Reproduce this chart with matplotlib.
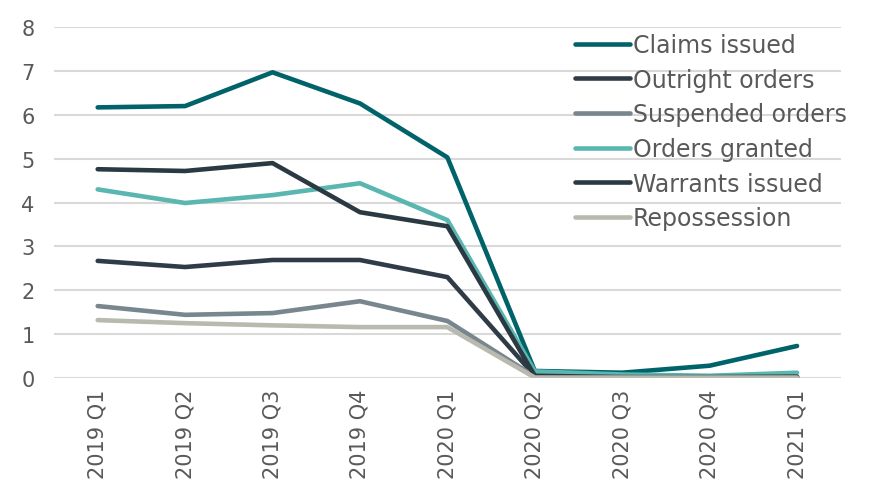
import matplotlib.pyplot as plt

quarters = ["2019 Q1", "2019 Q2", "2019 Q3", "2019 Q4", "2020 Q1",
            "2020 Q2", "2020 Q3", "2020 Q4", "2021 Q1"]

claims = [6.17, 6.20, 6.97, 6.26, 5.03, 0.16, 0.12, 0.28, 0.73]
outright = [2.67, 2.53, 2.69, 2.69, 2.30, 0.05, 0.02, 0.02, 0.02]
suspended = [1.64, 1.44, 1.48, 1.75, 1.30, 0.03, 0.02, 0.02, 0.02]
granted = [4.30, 3.99, 4.17, 4.44, 3.60, 0.15, 0.08, 0.05, 0.12]
warrants = [4.76, 4.72, 4.90, 3.78, 3.46, 0.05, 0.02, 0.02, 0.03]
reposs = [1.32, 1.25, 1.20, 1.16, 1.16, 0.01, 0.01, 0.01, 0.01]

series = [
    ("Claims issued", claims, "#00636A"),
    ("Outright orders", outright, "#2F3C47"),
    ("Suspended orders", suspended, "#78868E"),
    ("Orders granted", granted, "#5AB6B0"),
    ("Warrants issued", warrants, "#2B3943"),
    ("Repossession", reposs, "#B9B9AF"),
]

plt.rcParams['font.family'] = ['DejaVu Sans']

fig = plt.figure(figsize=(8.85, 4.85), dpi=100)
ax = fig.add_axes([0.061, 0.2186, 0.889, 0.7234])

x = range(len(quarters))
for label, vals, color in series:
    ax.plot(x, vals, color=color, lw=3.3, label=label, solid_capstyle="round", solid_joinstyle="round")

ax.set_xlim(-0.5, len(quarters) - 0.5)
ax.set_ylim(0, 8)
ax.set_yticks(range(0, 9))
ax.set_xticks(list(x))
ax.set_xticklabels(quarters, rotation=90)
ax.tick_params(axis="both", length=0, labelsize=15, labelcolor="#595959")
ax.tick_params(axis="y", pad=14)
ax.tick_params(axis="x", pad=8)
ax.grid(axis="y", color="#D9D9D9", lw=1.5)
ax.set_axisbelow(True)
for s in ax.spines.values():
    s.set_visible(False)

leg = ax.legend(loc="upper left", bbox_to_anchor=(0.655, 1.0), frameon=False,
                fontsize=17, handlelength=2.3, handletextpad=0.15, labelspacing=0.45,
                borderaxespad=0, borderpad=0.25)
for t in leg.get_texts():
    t.set_color("#595959")

fig.savefig("out.png", dpi=100)
